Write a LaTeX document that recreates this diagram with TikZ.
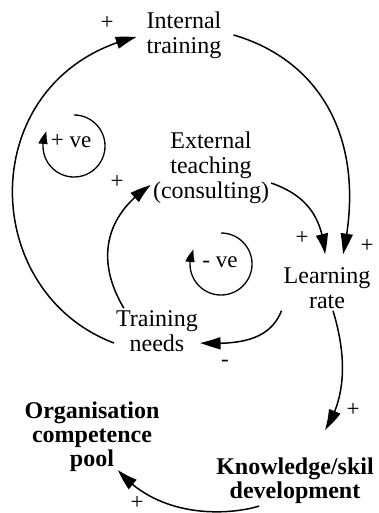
\documentclass[tikz,border=0pt]{standalone}
\usepackage{fontspec}
\setmainfont{Liberation Serif}
\usetikzlibrary{arrows.meta, bending}

\tikzset{
  word/.style={align=center, inner sep=2pt, font=\fontsize{24}{25}\selectfont},
  stock/.style={word, font=\fontsize{24}{24}\selectfont\bfseries},
  sgn/.style={inner sep=0pt, font=\fontsize{23}{26}\selectfont},
  link/.style={line width=1.5pt, -{Triangle[length=21pt, width=12pt, bend]}},
  loop/.style={line width=1.3pt, -{Triangle[length=13pt, width=9pt, bend]}}
}

\begin{document}
\begin{tikzpicture}[x=1pt, y=-1pt]
  \useasboundingbox (0,0) rectangle (378,513);
  % Variables
  \node[word] (it) at (184,35) {Internal\\training};
  \node[word] (ext) at (211,168) {External\\teaching\\(consulting)};
  \node[word] (lr) at (327,288) {Learning\\rate};
  \node[word] (tn) at (157,331) {Training\\needs};
  \node[stock] (kd) at (295,481) {Knowledge/skil\\development};
  \node[stock] (ocp) at (92,437) {Organisation\\competence\\pool};
  % Links
  \draw[link] ([yshift=-12pt]tn.west) .. controls (-25,290) and (-25,75) .. ([shift={(-8,2)}]it.west);
  \draw[link] ([xshift=10pt]it.east) .. controls (320,60) and (368,140) .. ([shift={(16,-11)}]lr.north);
  \draw[link] (ext.north east |- 0,183) .. controls (305,195) and (322,215) .. ([shift={(-2,-11)}]lr.north);
  \draw[link] ([xshift=10pt]tn.north west) .. controls (95,260) and (105,215) .. (ext.west |- 0,185);
  \draw[link] (lr.south west) .. controls (270,340) and (240,345) .. (tn.east |- 0,343);
  \draw[link] ([xshift=6pt]lr.south) .. controls (348,360) and (345,400) .. ([shift={(30,-26)}]kd.north);
  \draw[link] ([xshift=45pt]kd.south west) .. controls (230,515) and (160,520) .. ([shift={(26,-4)}]ocp.south);
  % Signs
  \node[sgn] (s1) at (107,23) {+};
  \node[sgn] (s2) at (117,182) {+};
  \node[sgn] (s3) at (302,238) {+};
  \node[sgn] (s4) at (367,246) {+};
  \node[sgn] (s5) at (225,363) {-};
  \node[sgn] (s6) at (353,410) {+};
  \node[sgn] (s7) at (137,503) {+};
  % Loops
  \draw[loop] (74,115) arc[start angle=270, end angle=568, radius=31];
  \node[sgn] (pve) at (71,141) {+ ve};
  \draw[loop] (221,233) arc[start angle=270, end angle=568, radius=31];
  \node[sgn] (nve) at (220,262) {- ve};
\end{tikzpicture}
\end{document}
